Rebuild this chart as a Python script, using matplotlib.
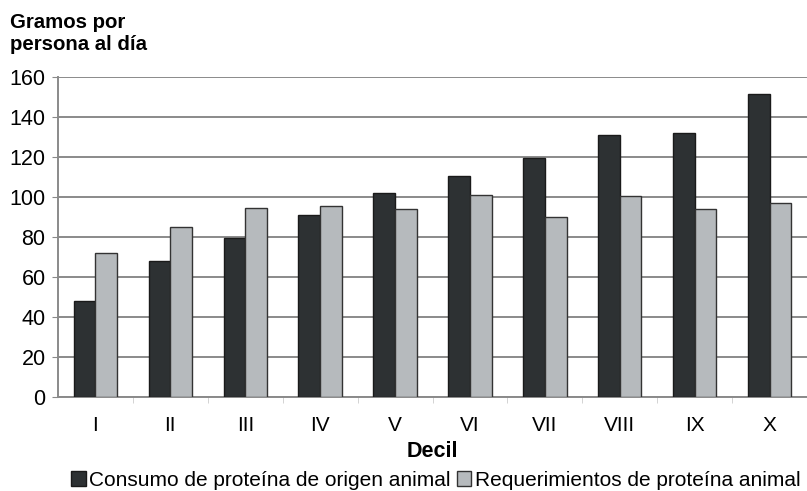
import numpy as np
import matplotlib; matplotlib.use("Agg")
import matplotlib.pyplot as plt

plt.rcParams['font.family'] = ['Liberation Sans', 'DejaVu Sans']

# --- data -------------------------------------------------------------------
deciles = ["I", "II", "III", "IV", "V", "VI", "VII", "VIII", "IX", "X"]
consumo = [48, 68, 79.5, 91, 102, 110.5, 119.5, 131, 132, 151.5]
requerimientos = [72, 85, 94.5, 95.5, 94, 101, 90, 100.5, 94, 97]
yticks = [0, 20, 40, 60, 80, 100, 120, 140, 160]

DARK = "#2d3133"
LIGHT = "#b6babd"
GRID = "#8a8a8a"

fig = plt.figure(figsize=(8.07, 4.91), dpi=100)
ax = fig.add_axes([0.0719, 0.192, 0.9281, 0.6518])

x = np.arange(len(deciles))
w = 0.29
ax.bar(x - w / 2, consumo, w, color=DARK, edgecolor="#1a1a1a", lw=1.0, zorder=3,
       label="Consumo de proteína de origen animal")
ax.bar(x + w / 2, requerimientos, w, color=LIGHT, edgecolor="#333333", lw=1.0, zorder=3,
       label="Requerimientos de proteína animal")

ax.set_xlim(-0.5, len(deciles) - 0.5)
ax.set_ylim(0, 160)
ax.set_yticks(yticks)
ax.tick_params(axis="y", labelsize=15.5, length=4, color=GRID, pad=5)
ax.yaxis.grid(True, color=GRID, lw=1.4, zorder=0)

ax.set_xticks(x)
ax.set_xticklabels(deciles, fontsize=15)
ax.set_xticks(np.arange(0.5, len(deciles) - 0.5), minor=True)
ax.tick_params(axis="x", which="major", length=0, pad=14)
ax.tick_params(axis="x", which="minor", length=4, color="#cccccc")

for s in ["top", "right"]:
    ax.spines[s].set_visible(False)
for s in ["left", "bottom"]:
    ax.spines[s].set_color(GRID)
    ax.spines[s].set_linewidth(1.4)

ax.set_xlabel("Decil", fontsize=15.5, fontweight="bold", labelpad=4)
fig.text(0.013, 1 - 13 / 491, "Gramos por\npersona al día", fontsize=14.7,
         fontweight="bold", ha="left", va="top", linespacing=1.2)

fig.legend(loc="center", bbox_to_anchor=(0.54, 0.022), ncol=2, frameon=False,
           fontsize=15, handlelength=0.7, handleheight=0.7, handletextpad=0.15,
           columnspacing=0.3, borderpad=0)

fig.savefig("out.png", dpi=100)
